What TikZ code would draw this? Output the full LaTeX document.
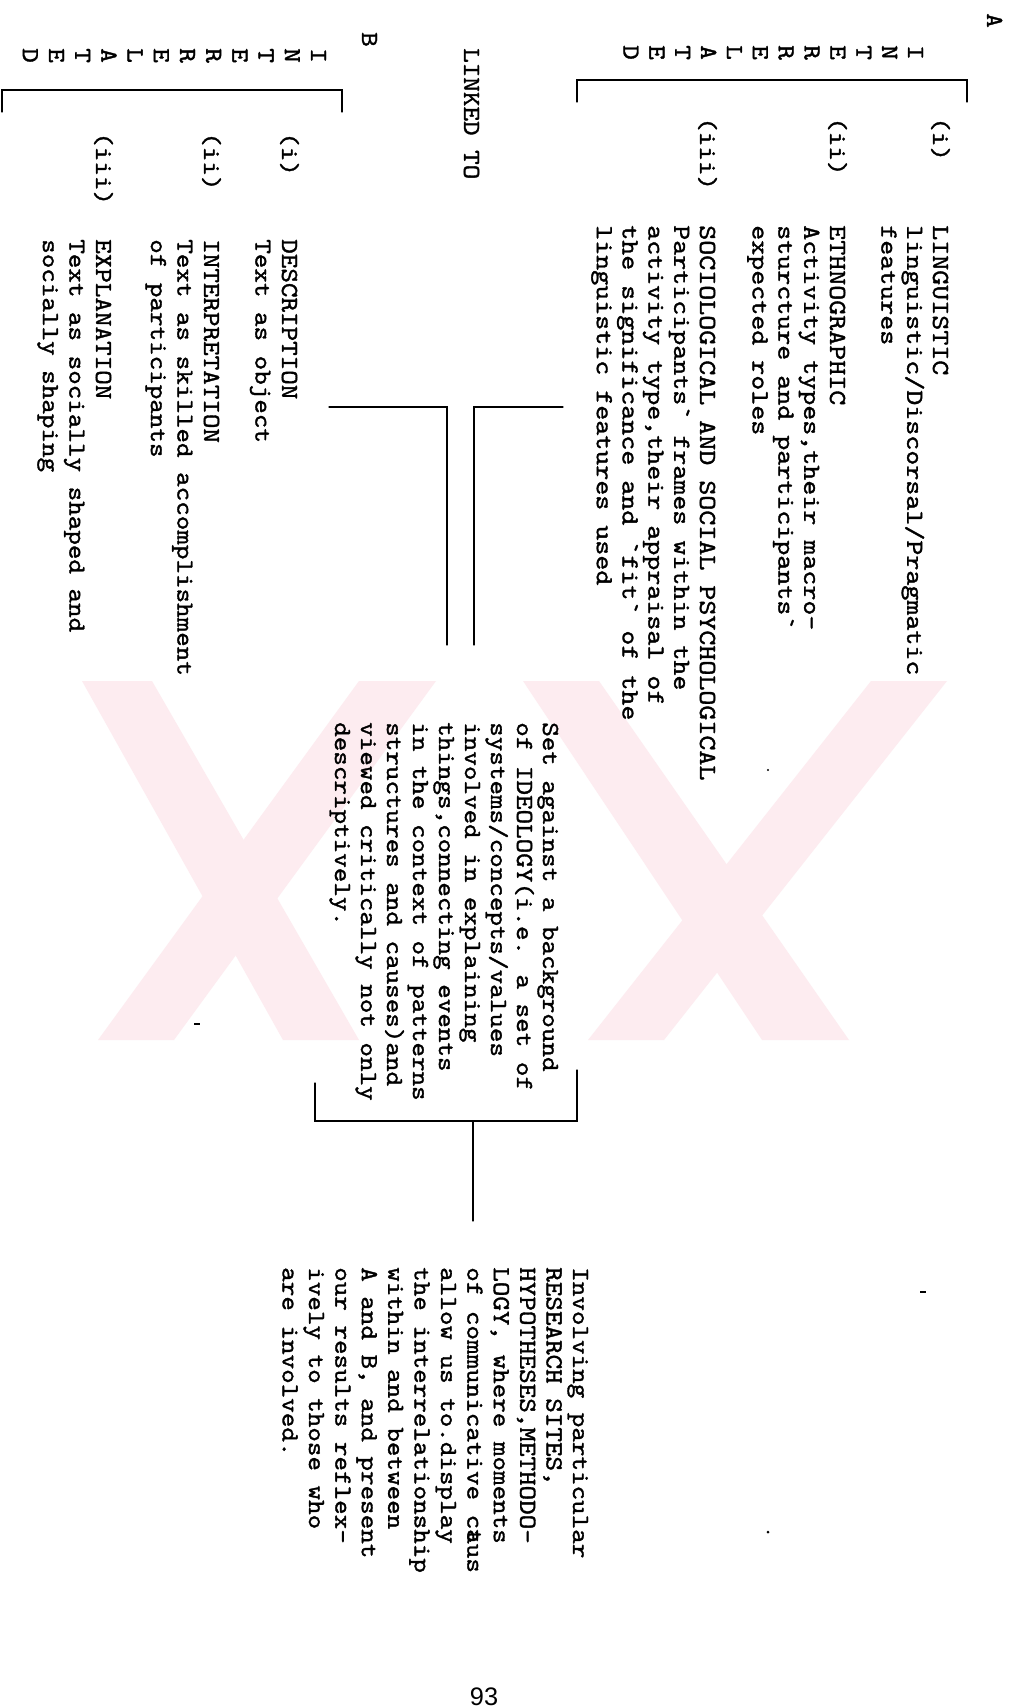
\documentclass[tikz,border=0pt]{standalone}
\usepackage{fontspec}
\usepackage{graphicx}
\newfontfamily\pgnumfont{Liberation Sans}
\newfontfamily\twfont{lmmono10-regular.otf}[FakeBold=1.3]
% typed block: #1 = horizontal stretch, #2 = line pitch, #3 = lines separated by \cr
\newcommand\tblock[3]{\scalebox{#1}[1]{\vtop{\baselineskip=#2\lineskiplimit=-\maxdimen\lineskip=0pt\halign{##\hfil\cr#3\crcr}}}}
\definecolor{wmark}{RGB}{253,236,240}
\begin{document}
\begin{tikzpicture}[x=0.75pt,y=-0.75pt,
  tw/.style={rotate=-90,anchor=base west,inner sep=0pt,font=\twfont\fontsize{18.4pt}{19.4pt}\selectfont},
  ln/.style={line width=0.9pt,line cap=round,line join=miter},
  band/.style={fill=wmark,draw=none},
  speck/.style={fill=black,draw=none}]
\useasboundingbox[fill=white] (0,0) rectangle (1014,1708);

% ---------------- watermark ----------------
\fill[band] (82,681) -- (152,681) -- (359,1040) -- (283,1040) -- cycle;
\fill[band] (359,681) -- (436,681) -- (174,1040) -- (98,1040) -- cycle;
\fill[band] (523,681) -- (599,681) -- (849,1040) -- (762,1040) -- cycle;
\fill[band] (871,681) -- (947,681) -- (664,1040) -- (588,1040) -- cycle;

% ---------------- block A ----------------
\node[tw] (labA) at (987,13) {\tblock{1.13}{19pt}{A}};
\node[tw] (intA) at (908,45) {\tblock{1.13}{19.4pt}{I\cr N\cr T\cr E\cr R\cr R\cr E\cr L\cr A\cr T\cr E\cr D}};
\draw[ln] (577,102) -- (577,80) -- (967,80) -- (967,102);
\node[tw] (iA1) at (933,117) {\tblock{1.13}{19pt}{(i)}};
\node[tw] (iA2) at (830,117) {\tblock{1.13}{19pt}{(ii)}};
\node[tw] (iA3) at (700,117) {\tblock{1.13}{19pt}{(iii)}};
\node[tw] (ling) at (933,225) {\tblock{1.165}{19.35pt}{LINGUISTIC\cr linguistic/Discorsal/Pragmatic\cr features}};
\node[tw] (ethno) at (830,225) {\tblock{1.165}{19.35pt}{ETHNOGRAPHIC\cr Activity types,their macro-\cr sturcture and participants`\cr expected roles}};
\node[tw] (socio) at (700,225) {\tblock{1.165}{19.35pt}{SOCIOLOGICAL AND SOCIAL PSYCHOLOGICAL\cr Participants` frames within the\cr activity type,their appraisal of\cr the significance and `fit` of the\cr linguistic features used}};

% ---------------- block B ----------------
\node[tw] (labB) at (362,32) {\tblock{1.13}{19pt}{B}};
\node[tw] (linked) at (464,48) {\tblock{1.13}{19pt}{LINKED TO}};
\node[tw] (intB) at (311,48) {\tblock{1.13}{19.65pt}{I\cr N\cr T\cr E\cr R\cr R\cr E\cr L\cr A\cr T\cr E\cr D}};
\draw[ln] (2,112) -- (2,90) -- (342,90) -- (342,112);
\node[tw] (iB1) at (282,132) {\tblock{1.13}{19pt}{(i)}};
\node[tw] (iB2) at (204,132) {\tblock{1.13}{19pt}{(ii)}};
\node[tw] (iB3) at (96,132) {\tblock{1.13}{19pt}{(iii)}};
\node[tw] (desc) at (282,239) {\tblock{1.13}{19.9pt}{DESCRIPTION\cr Text as object}};
\node[tw] (interp) at (204,239) {\tblock{1.13}{19.9pt}{INTERPRETATION\cr Text as skilled accomplishment\cr of participants}};
\node[tw] (expl) at (96,239) {\tblock{1.13}{19.9pt}{EXPLANATION\cr Text as socially shaped and\cr socially shaping}};

% ---------------- double link ----------------
\coordinate (lkA0) at (329,407);
\coordinate (lkA1) at (447,407);
\coordinate (lkA2) at (447,645);
\coordinate (lkB0) at (563,407);
\coordinate (lkB1) at (474,407);
\coordinate (lkB2) at (474,645);
\draw[ln] (lkA0) -- (lkA1) -- (lkA2);
\draw[ln] (lkB0) -- (lkB1) -- (lkB2);

% ---------------- ideology ----------------
\node[tw] (ideo) at (543,722) {\tblock{1.13}{19.5pt}{Set against a background\cr of IDEOLOGY(i.e. a set of\cr systems/concepts/values\cr involved in explaining\cr things,connecting events\cr in the context of patterns\cr structures and causes)and\cr viewed critically not only\cr descriptively.}};
\coordinate (brR) at (577,1070);
\coordinate (brRb) at (577,1121);
\coordinate (brLb) at (315,1121);
\coordinate (brL) at (315,1083);
\draw[ln] (brR) -- (brRb) -- (brLb) -- (brL);
\coordinate (stemtop) at (473,1121);
\coordinate (stembot) at (473,1221);
\draw[ln] (stemtop) -- (stembot);

% ---------------- involving ----------------
\node[tw] (invol) at (573,1267) {\tblock{1.13}{19.8pt}{Involving particular\cr RESEARCH SITES,\cr HYPOTHESES,METHODO-\cr LOGY, where moments\cr of communicative c\rlap{a}tus\cr allow us to.display\cr the interrelationship\cr within and between\cr A and B, and present\cr our results reflex-\cr ively to those who\cr are involved.}};

% ---------------- specks ----------------
\fill[speck] (194,1023) rectangle (200,1025);
\fill[speck] (920,1291) rectangle (926,1293);
\fill[speck] (768,770) circle (1.2);
\fill[speck] (768,1532) circle (1.5);

% ---------------- page number ----------------
\node[font=\pgnumfont\fontsize{19pt}{19pt}\selectfont,anchor=base,inner sep=0pt] (pgno) at (484,1705) {93};
\end{tikzpicture}
\end{document}
